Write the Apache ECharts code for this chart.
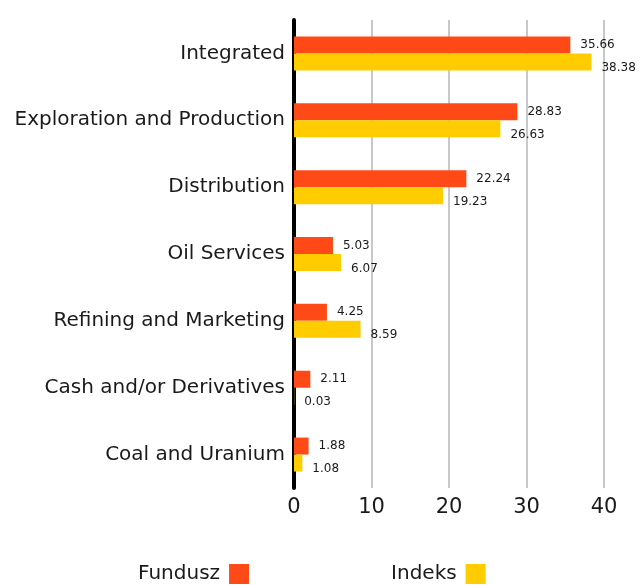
<!DOCTYPE html>
<html>
<head>
<meta charset="utf-8">
<script src="https://cdn.jsdelivr.net/npm/echarts@6/dist/echarts.min.js"></script>
<style>
  html, body { margin: 0; padding: 0; background: #fff; }
  #chart { width: 641px; height: 585px; }
</style>
</head>
<body>
<div id="chart"></div>
<script>
const categories = [
  'Integrated',
  'Exploration and Production',
  'Distribution',
  'Oil Services',
  'Refining and Marketing',
  'Cash and/or Derivatives',
  'Coal and Uranium',
]
const fundusz = [35.66, 28.83, 22.24, 5.03, 4.25, 2.11, 1.88]
const indeks = [38.38, 26.63, 19.23, 6.07, 8.59, 0.03, 1.08]

const FONT = 'DejaVu Sans'
const TEXT = '#1a1a1a'

const chart = echarts.init(document.getElementById('chart'))

const labelBase = {
  show: true,
  position: 'right',
  distance: 10,
  color: TEXT,
  fontSize: 12,
  fontFamily: FONT,
  formatter: p => p.value.toFixed(2),
}

chart.setOption({
  animation: false,
  backgroundColor: '#fff',
  grid: { left: 294, right: 37, top: 20, bottom: 97 },
  legend: {
    left: 133,
    top: 559,
    align: 'right',
    itemWidth: 20,
    itemHeight: 20,
    itemGap: 142,
    icon: 'rect',
    textStyle: { color: TEXT, fontSize: 20, fontFamily: FONT, padding: [4, 4, 0, 0] },
    data: ['Fundusz', 'Indeks'],
  },
  xAxis: {
    type: 'value',
    min: 0,
    max: 40,
    interval: 10,
    axisLine: { show: false },
    axisTick: { show: false },
    axisLabel: { color: TEXT, fontSize: 21, fontFamily: FONT, margin: 9 },
    splitLine: { lineStyle: { color: '#c8c8c8', width: 2 } },
  },
  yAxis: {
    type: 'category',
    inverse: true,
    data: categories,
    axisLine: { show: true, lineStyle: { color: '#000', width: 4 } },
    axisTick: { show: false },
    axisLabel: { color: TEXT, fontSize: 20, fontFamily: FONT, margin: 9, padding: [7, 0, 0, 0] },
  },
  series: [
    {
      name: 'Fundusz',
      type: 'bar',
      data: fundusz,
      barWidth: 17,
      barGap: '0%',
      itemStyle: { color: '#ff4a17' },
      label: { ...labelBase },
    },
    {
      name: 'Indeks',
      type: 'bar',
      data: indeks,
      barWidth: 17,
      barGap: '0%',
      itemStyle: { color: '#ffcc00' },
      label: { ...labelBase, offset: [0, 6] },
    },
  ],
})
</script>
</body>
</html>
